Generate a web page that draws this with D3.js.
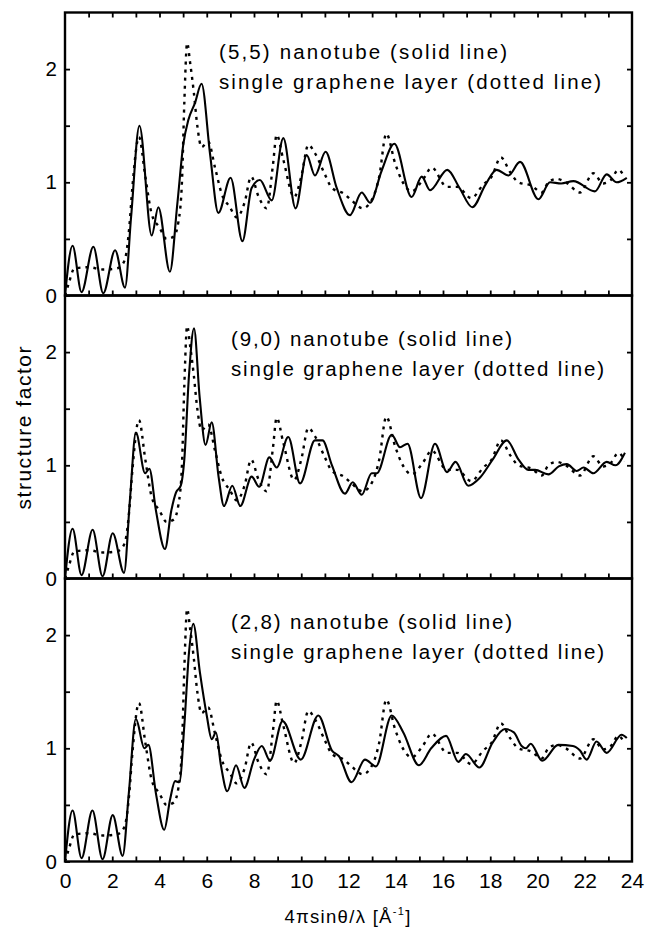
<!DOCTYPE html>
<html>
<head>
<meta charset="utf-8">
<script src="https://cdn.jsdelivr.net/npm/d3@7"></script>
<style>
  body { margin: 0; background: #fff; }
  svg text { font-family: "Liberation Sans", Arial, Helvetica, sans-serif; fill: #000; }
</style>
</head>
<body>
<svg id="chart" width="646" height="929"></svg>
<script>
// single graphene layer (dotted line, same in all panels)
var graphene = [[0,0],[0.15,0.1],[0.4,0.24],[1.0,0.25],[1.6,0.23],[2.2,0.24],[2.45,0.28],[2.6,0.38],[2.72,0.6],[2.85,0.95],
  [3.13,1.4],[3.4,1.05],[3.67,0.72],[4.0,0.6],[4.3,0.5],[4.6,0.52],[4.8,0.65],[4.95,1.0],[5.05,1.7],[5.17,2.23],
  [5.3,2.05],[5.45,1.8],[5.6,1.5],[5.78,1.31],[6.06,1.36],[6.35,1.13],[6.63,0.9],[6.98,0.78],[7.27,0.69],[7.6,0.82],
  [7.88,1.05],[8.2,0.87],[8.54,0.77],[8.8,1.15],[8.96,1.42],[9.24,1.2],[9.7,0.87],[10.0,1.05],[10.3,1.33],[10.6,1.25],
  [11.0,1.07],[11.3,0.95],[11.8,0.9],[12.13,0.84],[12.6,0.77],[13.0,0.85],[13.3,1.05],[13.6,1.43],[13.97,1.17],[14.25,1.02],
  [14.67,0.92],[15.17,1.03],[15.52,1.13],[16.16,0.96],[16.6,0.96],[17.2,0.86],[17.7,0.98],[18.06,1.05],[18.45,1.22],[18.84,1.09],
  [19.19,1.0],[19.75,0.97],[20.18,0.91],[20.46,1.0],[20.81,1.03],[21.2,1.0],[21.8,0.91],[22.36,1.08],[22.78,0.99],[23.1,1.02],
  [23.42,1.11],[23.7,1.04]];

// (5,5) nanotube
var tube55 = [[0,0],[0.32,0.44],[0.70,0.03],[1.2,0.43],[1.62,0.02],[2.12,0.40],[2.54,0.07],[2.8,0.7],[3.15,1.50],[3.67,0.53],
  [3.95,0.78],[4.44,0.21],[4.75,0.8],[5.01,1.34],[5.22,1.55],[5.5,1.7],[5.78,1.87],[6.14,1.25],[6.49,0.73],[7.01,1.04],
  [7.51,0.48],[7.9,0.95],[8.25,1.02],[8.75,0.84],[9.24,1.39],[9.76,0.77],[10.23,1.24],[10.58,1.06],[11.03,1.27],[11.5,0.95],
  [12.06,0.71],[12.56,0.91],[12.91,0.82],[13.4,1.1],[13.94,1.34],[14.67,0.87],[15.1,1.05],[15.45,0.93],[16.18,1.11],[16.7,0.95],
  [17.24,0.78],[17.8,0.98],[18.27,1.11],[18.77,1.06],[19.26,1.18],[20.04,0.85],[20.53,1.0],[21.0,0.99],[21.52,1.01],[22.43,0.92],
  [22.93,1.07],[23.35,1.0],[23.78,1.04]];

// (9,0) nanotube
var tube90 = [[0,0],[0.32,0.44],[0.70,0.03],[1.17,0.43],[1.59,0.02],[2.02,0.40],[2.5,0.05],[2.75,0.7],[3.0,1.29],[3.39,0.93],
  [3.57,0.97],[3.85,0.6],[4.23,0.26],[4.5,0.6],[4.7,0.76],[4.9,0.82],[5.05,1.05],[5.25,1.8],[5.46,2.21],[5.7,1.6],
  [5.95,1.18],[6.21,1.38],[6.5,0.9],[6.73,0.64],[7.08,0.82],[7.42,0.64],[7.90,0.90],[8.22,0.81],[8.65,1.07],[8.96,0.98],
  [9.45,1.25],[9.95,0.84],[10.58,1.22],[10.9,1.22],[11.3,1.0],[11.85,0.75],[12.18,0.85],[12.56,0.74],[12.98,0.93],[13.2,0.93],
  [13.83,1.27],[14.18,1.16],[14.5,1.19],[15.07,0.71],[15.66,1.19],[16.17,0.94],[16.53,1.03],[17.07,0.82],[17.56,0.89],[18.1,1.05],
  [18.7,1.22],[19.2,1.05],[19.61,0.96],[19.9,0.96],[20.46,0.92],[20.9,0.99],[21.24,1.01],[21.66,0.95],[21.95,0.98],[22.36,0.93],
  [22.93,1.03],[23.3,1.0],[23.7,1.11]];

// (2,8) nanotube
var tube28 = [[0,0],[0.32,0.45],[0.70,0.03],[1.16,0.45],[1.59,0.02],[2.02,0.41],[2.44,0.05],[2.7,0.6],[3.0,1.26],[3.36,1.0],
  [3.53,1.03],[3.85,0.6],[4.2,0.28],[4.45,0.55],[4.66,0.71],[4.84,0.70],[5.05,1.2],[5.25,1.85],[5.43,2.10],[5.71,1.67],
  [6.0,1.29],[6.21,1.08],[6.39,1.14],[6.6,0.85],[6.87,0.62],[7.24,0.85],[7.59,0.65],[8.0,0.9],[8.33,1.02],[8.68,0.89],
  [9.21,1.24],[9.98,0.90],[10.72,1.29],[11.3,0.98],[11.6,0.93],[12.13,0.70],[12.7,0.90],[13.16,0.84],[13.83,1.29],[14.32,1.14],
  [14.98,0.85],[15.5,1.0],[16.13,1.11],[16.65,0.88],[16.97,0.95],[17.54,0.83],[18.1,1.05],[18.62,1.17],[19.0,1.14],[19.33,1.02],
  [19.5,1.0],[19.71,1.04],[20.2,0.89],[20.88,1.03],[21.5,1.02],[21.8,0.98],[22.08,0.90],[22.5,1.06],[22.93,0.96],[23.56,1.12],
  [23.78,1.09]];

var panelNames = ['(5,5) nanotube (solid line)', '(9,0) nanotube (solid line)', '(2,8) nanotube (solid line)'];
var panelData = [tube55, tube90, tube28];
var legendLine2 = 'single graphene layer (dotted line)';

var xTicks = d3.range(0, 25, 1);
var yTicks = [0, 0.5, 1, 1.5, 2];

var left = 65, right = 632, top0 = 12.5, panelH = 283;

var x = d3.scaleLinear().domain([0, 24]).range([left, right]);

var svg = d3.select('svg#chart');

panelData.forEach(function(data, i) {
  var top = top0 + i * panelH;
  var y = d3.scaleLinear().domain([0, 2.5]).range([top + panelH, top]);
  var lineP = d3.line().x(d => x(d[0])).y(d => y(d[1])).curve(d3.curveMonotoneX);

  var g = svg.append('g');

  g.append('path')
    .datum(graphene)
    .attr('d', lineP)
    .attr('fill', 'none')
    .attr('stroke', '#000')
    .attr('stroke-width', 2.4)
    .attr('stroke-dasharray', '3,5');

  g.append('path')
    .datum(data)
    .attr('d', lineP)
    .attr('fill', 'none')
    .attr('stroke', '#000')
    .attr('stroke-width', 2.1);

  // y axes, ticks inside
  var yl = g.append('g').attr('transform', 'translate(' + left + ',0)')
    .call(d3.axisLeft(y).tickValues(yTicks).tickSizeInner(-5).tickSizeOuter(0).tickPadding(8)
      .tickFormat(d => Number.isInteger(d) ? d : ''));
  var yr = g.append('g').attr('transform', 'translate(' + right + ',0)')
    .call(d3.axisRight(y).tickValues(yTicks.slice(1)).tickSizeInner(-5).tickSizeOuter(0).tickFormat(''));

  // x ticks at bottom of each panel, pointing up
  var xb = g.append('g').attr('transform', 'translate(0,' + (top + panelH) + ')')
    .call(d3.axisBottom(x).tickValues(xTicks.slice(1, 24)).tickSizeInner(-5).tickSizeOuter(0).tickFormat(''));

  [yl, yr, xb].forEach(function(a) {
    a.select('.domain').remove();
    a.selectAll('.tick line').attr('stroke', '#000').attr('stroke-width', 1.8);
    a.selectAll('text').attr('font-size', 20.5).attr('fill', '#000');
  });

  if (i == 0) {
    var xt = g.append('g').attr('transform', 'translate(0,' + top + ')')
      .call(d3.axisTop(x).tickValues(xTicks.slice(1, 24)).tickSizeInner(-5).tickSizeOuter(0).tickFormat(''));
    xt.select('.domain').remove();
    xt.selectAll('.tick line').attr('stroke', '#000').attr('stroke-width', 1.8);
  }

  var tx = i == 0 ? 219 : 231;
  var ty = i == 0 ? top + 46.5 : top + 50;
  g.append('text')
    .attr('x', tx)
    .attr('y', ty)
    .attr('font-size', 20.5)
    .attr('textLength', i == 0 ? 288 : 281)
    .attr('lengthAdjust', 'spacing')
    .text(panelNames[i]);
  g.append('text')
    .attr('x', tx)
    .attr('y', ty + 30)
    .attr('font-size', 20.5)
    .attr('textLength', i == 0 ? 382 : 373)
    .attr('lengthAdjust', 'spacing')
    .text(legendLine2);

  g.append('rect')
    .attr('x', left)
    .attr('y', top)
    .attr('width', right - left)
    .attr('height', panelH)
    .attr('fill', 'none')
    .attr('stroke', '#000')
    .attr('stroke-width', 2.4);
});

// bottom x labels
var bottom = top0 + 3 * panelH;
var xa = svg.append('g').attr('transform', 'translate(0,' + bottom + ')')
  .call(d3.axisBottom(x).tickValues(xTicks.filter(d => d % 2 == 0)).tickSize(0).tickPadding(12));
xa.select('.domain').remove();
xa.selectAll('text').attr('font-size', 21).attr('fill', '#000');

var xTitle = svg.append('text')
  .attr('x', 348)
  .attr('y', 923)
  .attr('text-anchor', 'middle')
  .attr('font-size', 18.5)
  .attr('letter-spacing', 1.3);
xTitle.append('tspan').text('4\u03c0sin\u03b8/\u03bb  [\u00c5');
xTitle.append('tspan').attr('font-size', 11).attr('dy', -8).text('-1');
xTitle.append('tspan').attr('dy', 8).text(']');

svg.append('text')
  .attr('transform', 'translate(31,' + 428 + ') rotate(-90)')
  .attr('text-anchor', 'middle')
  .attr('font-size', 21)
  .attr('textLength', 163)
  .attr('lengthAdjust', 'spacing')
  .text('structure factor');
</script>
</body>
</html>
